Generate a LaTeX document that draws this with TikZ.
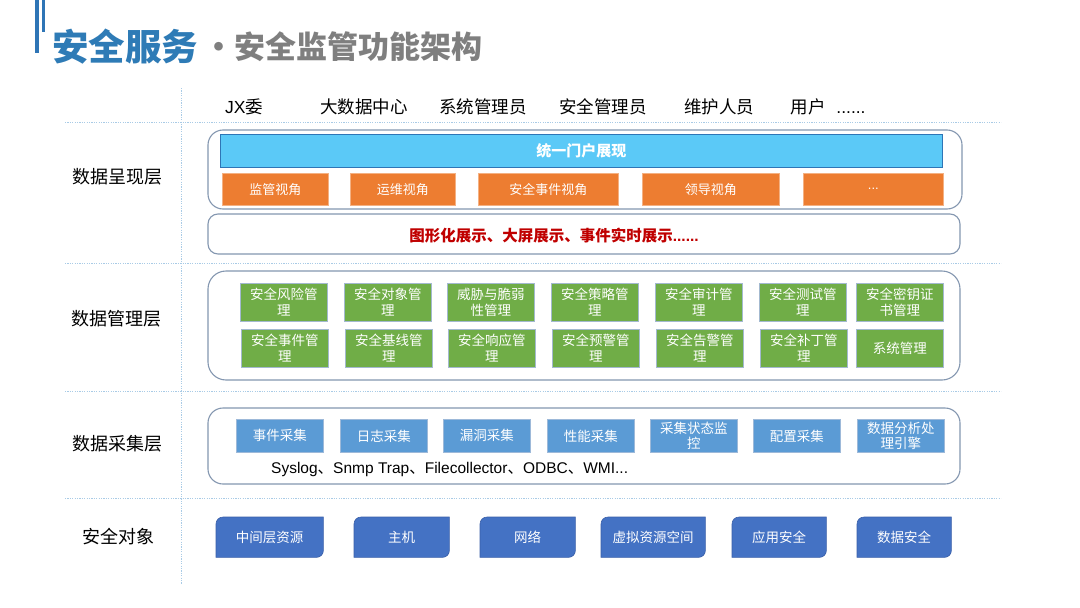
\documentclass[tikz,border=0pt]{standalone}
\usepackage{fontspec}
\setmainfont{Noto Sans CJK SC}
\newfontfamily\lat{Liberation Sans}
\definecolor{titleblue}{HTML}{2E7BB6}
\definecolor{titlegray}{HTML}{7F7F7F}
\definecolor{barblue}{HTML}{2E75B6}
\definecolor{gridline}{HTML}{A9CBE6}
\definecolor{outerline}{HTML}{8497B0}
\definecolor{portalfill}{HTML}{5BC9F7}
\definecolor{portalline}{HTML}{2E75B6}
\definecolor{orangefill}{HTML}{ED7D31}
\definecolor{greenfill}{HTML}{70AD47}
\definecolor{greenline}{HTML}{A3B9CF}
\definecolor{collfill}{HTML}{5B9BD5}
\definecolor{collline}{HTML}{9DB9D9}
\definecolor{objfill}{HTML}{4472C4}
\definecolor{objline}{HTML}{3A5FA8}
\definecolor{redtext}{HTML}{C00000}
\tikzset{
  gridl/.style={gridline, line width=0.9pt, dash pattern=on 1.2pt off 1.2pt},
  outerbox/.style={draw=outerline, line width=1.1pt, fill=white},
  boxat/.style={anchor=north west, inner sep=0pt, align=center},
  portalbox/.style={boxat, fill=portalfill, draw=portalline, line width=0.8pt, text=white, font=\fontsize{15}{18}\selectfont\bfseries},
  orangebox/.style={boxat, fill=orangefill, draw=orangefill!60!white, line width=0.6pt, text=white, font=\fontsize{13}{16}\selectfont},
  greenbox/.style={boxat, fill=greenfill, draw=greenline, line width=0.9pt, text=white, minimum width=87pt, minimum height=38pt, font=\fontsize{13.5}{16}\selectfont},
  collbox/.style={boxat, fill=collfill, draw=collline, line width=0.7pt, text=white, minimum width=87pt, minimum height=33pt, font=\fontsize{13.5}{15}\selectfont},
  objbox/.style={boxat, minimum height=40pt},
  objtext/.style={text=white, font=\fontsize{13.5}{16}\selectfont},
  layerlabel/.style={font=\fontsize{18}{20}\selectfont, text=black},
  headtext/.style={anchor=base, font=\fontsize{17.5}{20}\selectfont, text=black},
}
\newcommand{\objshape}[1]{%
  \fill[objfill, draw=objline, line width=0.6pt]
    (#1.south west) -- ([yshift=-7pt]#1.north west)
    arc[start angle=180, end angle=90, radius=7pt]
    -- (#1.north east) -- ([yshift=7pt]#1.south east)
    arc[start angle=0, end angle=-90, radius=7pt] -- cycle;}
\begin{document}
\begin{tikzpicture}[x=1pt, y=-1pt]
\useasboundingbox (0,0) rectangle (1080,608);
\fill[white] (0,0) rectangle (1080,608);

% title bars
\fill[barblue] (35,0) rectangle (38.5,53);
\fill[barblue] (42,0) rectangle (44.5,32);
% title
\node[anchor=west, inner sep=0pt, text=titleblue, font=\fontsize{36.5}{40}\selectfont\bfseries] (t1) at (52,47) {安全服务};
\node[anchor=west, inner sep=0pt, text=titlegray, font=\fontsize{31}{36}\selectfont\bfseries] (t2) at (203,47) {·安全监管功能架构};

% grid lines
\coordinate (vt) at (181,88);
\coordinate (vb) at (181,584);
\draw[gridl] (vt) -- (vb);
\foreach \yy/\nm in {122/h1, 263/h2, 391/h3, 498/h4} {
  \coordinate (\nm a) at (65,\yy);
  \coordinate (\nm b) at (1001,\yy);
  \draw[gridl] (\nm a) -- (\nm b);
}

% header row
\node[headtext] (u1) at (244,113) {{\lat JX}委};
\node[headtext] (u2) at (364,113) {大数据中心};
\node[headtext] (u3) at (483,113) {系统管理员};
\node[headtext] (u4) at (603,113) {安全管理员};
\node[headtext] (u5) at (719,113) {维护人员};
\node[headtext] (u6) at (808,113) {用户};
\node[headtext] (u7) at (851,113) {\lat ......};

% layer labels
\node[layerlabel] (l1) at (117,177) {数据呈现层};
\node[layerlabel] (l2) at (116,319) {数据管理层};
\node[layerlabel] (l3) at (117,444) {数据采集层};
\node[layerlabel] (l4) at (118,537) {安全对象};

% ---------- presentation layer
\draw[outerbox, rounded corners=15pt] (208,130) rectangle (962,209);
\node[portalbox, minimum width=722pt, minimum height=33pt] (portal) at (220,134) {统一门户展现};
\foreach \xx/\ww/\nm/\tx in {222/106/o1/监管视角, 350/105/o2/运维视角, 478/140/o3/安全事件视角, 642/137/o4/领导视角, 803/140/o5/{\lat ...}} {
  \node[orangebox, minimum width=\ww pt, minimum height=32pt] (\nm) at (\xx,173) {\tx};
}
\draw[outerbox, rounded corners=10pt] (208,214) rectangle (960,254);
\node[text=redtext, font=\fontsize{15.5}{18}\selectfont\bfseries, inner sep=0pt] (redline) at (554,236) {图形化展示、大屏展示、事件实时展示\lat\bfseries ......};

% ---------- management layer
\draw[outerbox, rounded corners=18pt] (208,271) rectangle (960,380);
\foreach \xx/\nm/\tx in {240/g1/安全风险管\\理, 344/g2/安全对象管\\理, 447/g3/威胁与脆弱\\性管理, 551/g4/安全策略管\\理, 655/g5/安全审计管\\理, 759/g6/安全测试管\\理, 856/g7/安全密钥证\\书管理} {
  \node[greenbox] (\nm) at (\xx,283) {\tx};
}
\foreach \xx/\nm/\tx in {241/h1/安全事件管\\理, 345/h2/安全基线管\\理, 448/h3/安全响应管\\理, 552/h4/安全预警管\\理, 656/h5/安全告警管\\理, 760/h6/安全补丁管\\理, 856/h7/系统管理} {
  \node[greenbox] (\nm) at (\xx,329) {\tx};
}

% ---------- collection layer
\draw[outerbox, rounded corners=15pt] (208,408) rectangle (960,484);
\foreach \xx/\nm/\tx in {236/c1/事件采集, 340/c2/日志采集, 443/c3/漏洞采集, 547/c4/性能采集, 650/c5/采集状态监\\控, 753/c6/配置采集, 857/c7/数据分析处\\理引擎} {
  \node[collbox] (\nm) at (\xx,419) {\tx};
}
\node[anchor=west, inner sep=0pt, font=\fontsize{15.5}{17}\selectfont] (proto) at (271,469) {\lat Syslog{\rmfamily 、}Snmp Trap{\rmfamily 、}Filecollector{\rmfamily 、}ODBC{\rmfamily 、}WMI...};

% ---------- objects layer
\foreach \xx/\ww/\nm/\tx in {216/107/b1/中间层资源, 354/95/b2/主机, 480/95/b3/网络, 601/104/b4/虚拟资源空间, 732/94/b5/应用安全, 857/94/b6/数据安全} {
  \node[objbox, minimum width=\ww pt] (\nm) at (\xx,517) {};
  \objshape{\nm}
  \node[objtext] at (\nm.center) {\tx};
}
\end{tikzpicture}
\end{document}
